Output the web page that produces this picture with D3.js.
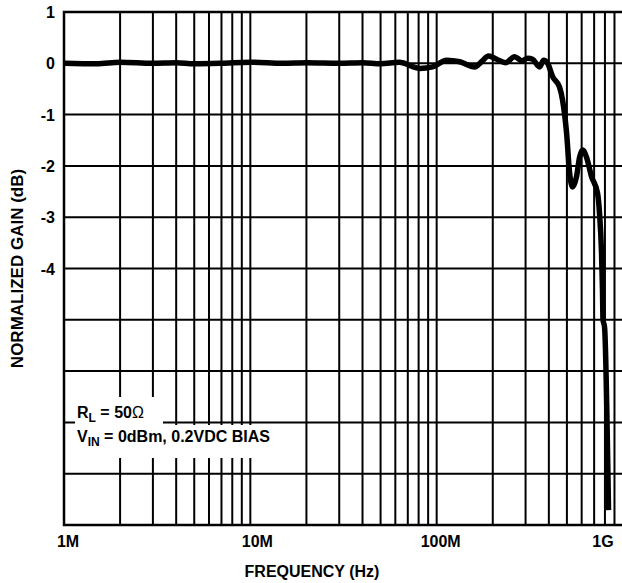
<!DOCTYPE html>
<html>
<head>
<meta charset="utf-8">
<script src="https://cdn.jsdelivr.net/npm/d3@7"></script>
<style>
  html, body { margin: 0; padding: 0; background: #fff; }
  svg { display: block; font-family: "Liberation Sans", Arial, sans-serif; font-weight: bold; }
</style>
</head>
<body>
<svg id="chart" width="622" height="583"></svg>
<script>
// ---- data ----
const freqHz = [1e6, 1.5e6, 2e6, 3e6, 4e6, 5e6, 7e6, 10e6, 15e6, 20e6, 30e6, 40e6, 50e6, 63e6,
  81e6, 95e6, 113e6, 133e6, 160e6, 174e6, 190e6, 210e6, 234e6, 262e6, 286e6, 308e6, 327e6,
  357e6, 375e6, 394e6, 419e6, 456e6, 474e6, 498e6, 517e6, 536e6, 563e6, 585e6, 607e6, 637e6,
  678e6, 730e6, 748e6, 767e6, 776e6, 781e6, 796e6, 836e6];
const gainDb = [0.0, -0.01, 0.02, 0.0, 0.01, -0.01, 0.0, 0.02, 0.0, 0.01, 0.0, 0.01, -0.01, 0.02,
  -0.10, -0.07, 0.06, 0.03, -0.07, 0.03, 0.14, 0.08, 0.01, 0.13, 0.05, 0.10, 0.08,
  -0.07, 0.06, 0.0, -0.26, -0.46, -0.72, -1.36, -2.14, -2.41, -2.21, -1.83, -1.69, -1.83,
  -2.21, -2.53, -2.92, -3.70, -4.42, -5.0, -5.14, -8.71];
const xTickValues = [1e6, 1e7, 1e8, 1e9];
const xTickLabels = ["1M", "10M", "100M", "1G"];
const yTickValues = [1, 0, -1, -2, -3, -4];
const yTickLabels = ["1", "0", "-1", "-2", "-3", "-4"];
const yGridValues = [1, 0, -1, -2, -3, -4, -5, -6, -7, -8, -9];

// ---- layout ----
const svg = d3.select("#chart");
const pLeft = 64, pTop = 12, pBottom = 525, pRight = 623;
const x = d3.scaleLog().domain([1e6, 1e9]).range([pLeft, pRight]);
const y = d3.scaleLinear().domain([1, -9]).range([pTop, pBottom]);

// vertical grid
const vGrid = [];
[1e6, 1e7, 1e8].forEach(d => { for (let m = 1; m <= 9; m++) vGrid.push(d * m); });
vGrid.push(1e9);
svg.append("g").selectAll("line").data(vGrid).join("line")
  .attr("x1", d => x(d)).attr("x2", d => x(d))
  .attr("y1", pTop).attr("y2", pBottom)
  .attr("stroke", "#000").attr("stroke-width", 2);

// horizontal grid
svg.append("g").selectAll("line").data(yGridValues).join("line")
  .attr("x1", pLeft).attr("x2", 622)
  .attr("y1", d => y(d)).attr("y2", d => y(d))
  .attr("stroke", "#000").attr("stroke-width", 2);

// border
svg.append("rect").attr("x", pLeft).attr("y", pTop)
  .attr("width", pRight + 2 - pLeft).attr("height", pBottom - pTop)
  .attr("fill", "none").attr("stroke", "#000").attr("stroke-width", 2.5);

// note boxes
svg.append("rect").attr("x", 75).attr("y", 397).attr("width", 88).attr("height", 29).attr("fill", "#fff");
svg.append("rect").attr("x", 66).attr("y", 425).attr("width", 212).attr("height", 33).attr("fill", "#fff");

const t1 = svg.append("text").attr("x", 77).attr("y", 418).attr("font-size", 16);
t1.append("tspan").text("R");
t1.append("tspan").attr("font-size", 12).attr("dy", 4).text("L");
t1.append("tspan").attr("dy", -4).text(" = 50");
t1.append("tspan").attr("font-weight", "normal").text("\u03A9");

const t2 = svg.append("text").attr("x", 77).attr("y", 442).attr("font-size", 16);
t2.append("tspan").text("V");
t2.append("tspan").attr("font-size", 12).attr("dy", 4).text("IN");
t2.append("tspan").attr("dy", -4).text(" = 0dBm, 0.2VDC BIAS");

// curve
const line = d3.line()
  .x((d, i) => x(freqHz[i]))
  .y(d => y(d))
  .curve(d3.curveMonotoneX);
svg.append("path").datum(gainDb)
  .attr("d", line)
  .attr("fill", "none").attr("stroke", "#000")
  .attr("stroke-width", 5.5).attr("stroke-linejoin", "round").attr("stroke-linecap", "butt");

// y tick labels
svg.append("g").selectAll("text").data(yTickValues).join("text")
  .attr("x", 55).attr("y", d => y(d) + 6)
  .attr("text-anchor", "end").attr("font-size", 16)
  .text((d, i) => yTickLabels[i]);

// x tick labels
const xLabelDx = [4, 7, 4, -20];
svg.append("g").selectAll("text").data(xTickValues).join("text")
  .attr("x", (d, i) => x(d) + xLabelDx[i]).attr("y", 547)
  .attr("text-anchor", "middle").attr("font-size", 16)
  .text((d, i) => xTickLabels[i]);

// axis titles
svg.append("text").attr("x", 312).attr("y", 577)
  .attr("text-anchor", "middle").attr("font-size", 16)
  .text("FREQUENCY (Hz)");
svg.append("text")
  .attr("transform", "translate(23," + ((pTop + pBottom) / 2) + ") rotate(-90)")
  .attr("text-anchor", "middle").attr("font-size", 17)
  .text("NORMALIZED GAIN (dB)");
</script>
</body>
</html>
